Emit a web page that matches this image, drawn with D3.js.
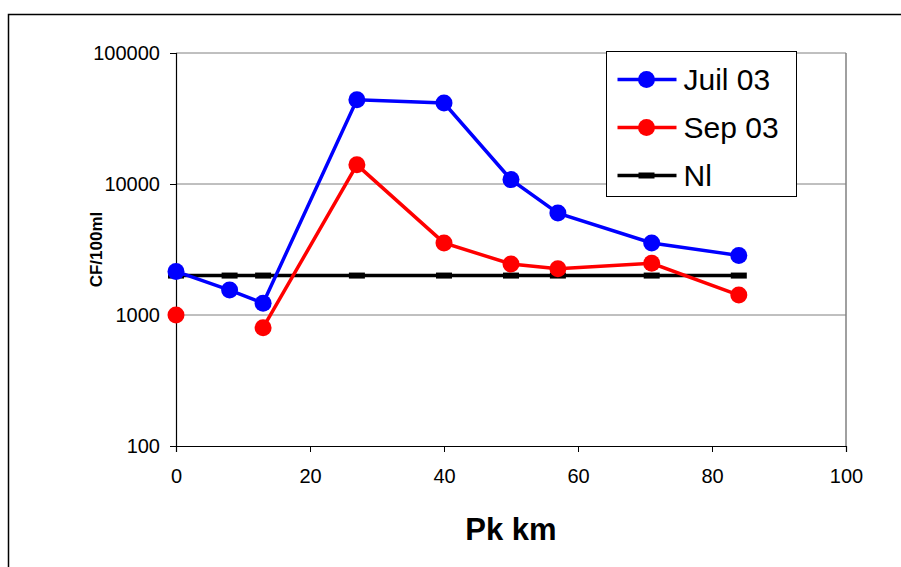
<!DOCTYPE html>
<html>
<head>
<meta charset="utf-8">
<script src="https://cdn.jsdelivr.net/npm/d3@7"></script>
<style>
  body { margin: 0; background: #fff; }
  svg { display: block; font-family: Arial, "Liberation Sans", sans-serif; }
</style>
</head>
<body>
<div id="chart"></div>
<script>
const pkKm = [0, 8, 13, 27, 40, 50, 57, 71, 84];
const juil03 = [2150, 1550, 1230, 44000, 41500, 10800, 6000, 3550, 2850];
const sep03 = [1000, null, 800, 14000, 3550, 2450, 2250, 2480, 1420];
const nl = [2000, 2000, 2000, 2000, 2000, 2000, 2000, 2000, 2000];
const xTicks = [0, 20, 40, 60, 80, 100];
const yTicks = [100, 1000, 10000, 100000];

const W = 901, H = 567;
const margin = { top: 53, right: 55, bottom: 121, left: 176 };

const svg = d3.select("#chart").append("svg").attr("width", W).attr("height", H);

// outer chart frame
svg.append("rect")
    .attr("x", 8.5).attr("y", 14.5)
    .attr("width", W + 10).attr("height", H + 10)
    .attr("fill", "none").attr("stroke", "#000").attr("stroke-width", 1.5);

const x = d3.scaleLinear().domain([0, 100]).range([margin.left, W - margin.right]);
const y = d3.scaleLog().domain([100, 100000]).range([H - margin.bottom, margin.top]);

// gridlines + plot frame
svg.append("g").selectAll("line")
    .data(yTicks.slice(1))
    .join("line")
    .attr("x1", x(0)).attr("x2", x(100))
    .attr("y1", d => y(d)).attr("y2", d => y(d))
    .attr("stroke", "#808080").attr("stroke-width", 1);
svg.append("line")
    .attr("x1", x(100)).attr("x2", x(100))
    .attr("y1", y(100000)).attr("y2", y(100))
    .attr("stroke", "#808080").attr("stroke-width", 1.5);

// axes
svg.append("g").attr("transform", `translate(0,${y(100)})`)
    .call(d3.axisBottom(x).tickValues(xTicks).tickSize(6).tickPadding(17))
    .call(g => g.selectAll("text").attr("font-size", 20).attr("fill", "#000"))
    .call(g => g.select(".domain").attr("stroke-width", 1.2));

svg.append("g").attr("transform", `translate(${x(0)},0)`)
    .call(d3.axisLeft(y).tickValues(yTicks).tickFormat(d3.format("d")).tickSize(6).tickPadding(10))
    .call(g => g.selectAll("text").attr("font-size", 20).attr("fill", "#000"))
    .call(g => g.select(".domain").attr("stroke-width", 1.2));

// axis titles
svg.append("text")
    .attr("transform", `translate(102,${(y(100) + y(100000)) / 2}) rotate(-90)`)
    .attr("text-anchor", "middle")
    .attr("font-size", 17).attr("font-weight", "bold")
    .text("CF/100ml");
svg.append("text")
    .attr("x", 511).attr("y", 540)
    .attr("text-anchor", "middle")
    .attr("font-size", 31).attr("font-weight", "bold")
    .text("Pk km");

// gaps (null) are left unconnected, as in the original
const line = d3.line()
    .defined(d => d[1] != null)
    .x(d => x(d[0])).y(d => y(d[1]));

function drawSeries(values, color, marker) {
    const data = pkKm.map((k, i) => [k, values[i]]);
    const pts = data.filter(d => d[1] != null);
    svg.append("path").datum(data)
        .attr("fill", "none").attr("stroke", color).attr("stroke-width", 3.5)
        .attr("d", line);
    if (marker === "dot") {
        svg.append("g").selectAll("circle").data(pts).join("circle")
            .attr("cx", d => x(d[0])).attr("cy", d => y(d[1]))
            .attr("r", 8.5).attr("fill", color);
    } else {
        svg.append("g").selectAll("rect").data(pts).join("rect")
            .attr("x", d => x(d[0]) - 8).attr("y", d => y(d[1]) - 3)
            .attr("width", 16).attr("height", 6).attr("fill", color);
    }
}

drawSeries(nl, "#000", "dash");
drawSeries(sep03, "#ff0000", "dot");
drawSeries(juil03, "#0000ff", "dot");

// legend
const legend = [
    { label: "Juil 03", color: "#0000ff", marker: "dot" },
    { label: "Sep 03", color: "#ff0000", marker: "dot" },
    { label: "Nl", color: "#000", marker: "dash" }
];
const lg = svg.append("g").attr("transform", "translate(606.5,51.5)");
lg.append("rect").attr("width", 190).attr("height", 145)
    .attr("fill", "#fff").attr("stroke", "#000").attr("stroke-width", 1);
legend.forEach((d, i) => {
    const cy = 28 + i * 48;
    lg.append("line").attr("x1", 11).attr("x2", 70).attr("y1", cy).attr("y2", cy)
        .attr("stroke", d.color).attr("stroke-width", 3.5);
    if (d.marker === "dot") {
        lg.append("circle").attr("cx", 40).attr("cy", cy).attr("r", 8.5).attr("fill", d.color);
    } else {
        lg.append("rect").attr("x", 32).attr("y", cy - 3).attr("width", 16).attr("height", 6).attr("fill", d.color);
    }
    lg.append("text").attr("x", 77).attr("y", cy + 10)
        .attr("font-size", 30).text(d.label);
});
</script>
</body>
</html>
